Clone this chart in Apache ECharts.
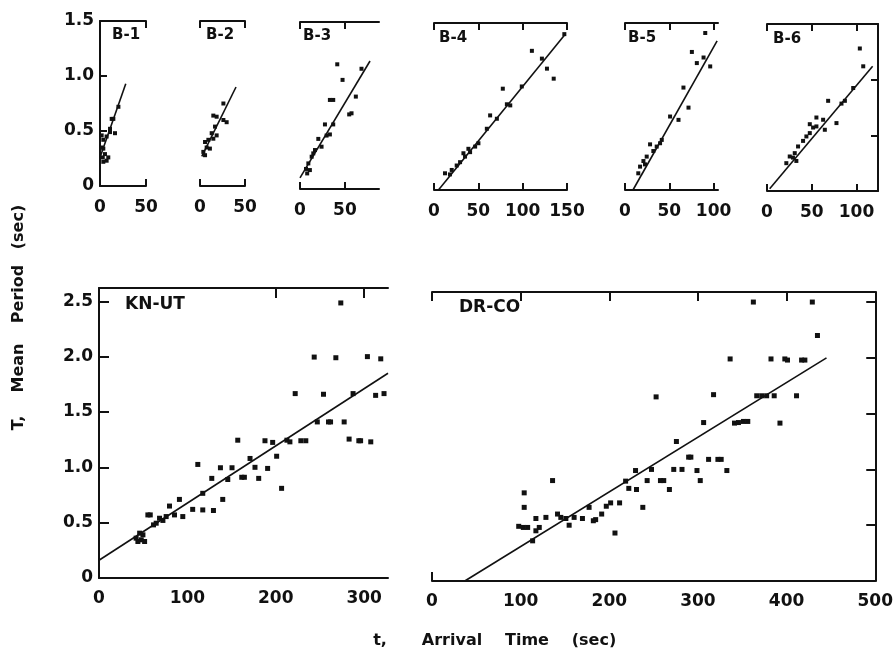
<!DOCTYPE html>
<html><head><meta charset="utf-8">
<script src="https://cdn.jsdelivr.net/npm/echarts@6/dist/echarts.min.js"></script>
<style>html,body{margin:0;padding:0;background:#fff}#c{width:896px;height:654px}</style>
</head><body><div id="c"></div>
<script>
// ---------- data ----------
const panelNames = ['B-1','B-2','B-3','B-4','B-5','B-6','KN-UT','DR-CO'];

const b1Time   = [20,12.7,14.5,16.3,10.9,7.2,3.6,1.8,3.6,5.4,9,3,7.2,3.6,1.8,10.9];
const b1Period = [0.72,0.61,0.61,0.48,0.49,0.45,0.42,0.46,0.34,0.29,0.26,0.26,0.23,0.22,0.35,0.52];

const b2Time   = [26,14.8,18.5,26,29.6,16.7,13,18.5,9.3,5.6,7.4,3.7,5.6,11,14.8];
const b2Period = [0.75,0.64,0.63,0.6,0.58,0.54,0.48,0.46,0.42,0.40,0.35,0.31,0.28,0.34,0.43];

const b3Time   = [41.5,68.5,47.4,33.3,37,62.2,54.8,57.4,27.8,37,33.3,20.4,24,16.7,13,9.3,6.7,11,8,14.8,29.6];
const b3Period = [1.12,1.08,0.98,0.80,0.80,0.83,0.67,0.68,0.58,0.58,0.49,0.45,0.38,0.35,0.29,0.23,0.18,0.17,0.14,0.32,0.48];

const b4Time   = [147,110.4,121.7,127.4,135,77.6,99,82.2,86,63.3,70.9,59.6,50.1,46.4,40.7,35,29.4,25.6,20,12.4,18,38.8,33.2];
const b4Period = [1.40,1.25,1.18,1.09,1.0,0.91,0.93,0.77,0.76,0.67,0.64,0.55,0.42,0.39,0.34,0.30,0.25,0.22,0.18,0.15,0.14,0.37,0.33];

const b5Time   = [90.6,75.5,88.7,81.1,96.2,66,71.7,50.9,60.4,41.5,28.3,35.8,32,24.5,20.8,17,15,22.6,39.6];
const b5Period = [1.41,1.24,1.19,1.14,1.11,0.92,0.74,0.66,0.63,0.45,0.41,0.39,0.35,0.30,0.26,0.21,0.15,0.23,0.42];

const b6Time   = [103.7,107.5,96.3,68.3,83.2,87,55.2,62.7,77.6,47.8,51.5,64.6,44,40.3,34.7,31,25.4,21.6,32.8,29,55.2,47.8];
const b6Period = [1.28,1.12,0.925,0.81,0.785,0.81,0.66,0.64,0.61,0.60,0.57,0.55,0.49,0.45,0.40,0.34,0.31,0.25,0.27,0.30,0.58,0.52];

const knTime   = [273.6,243.5,268,303.7,318.8,222,254,287.5,313,322.5,247,259.7,262,277.4,283,294,296,307.5,212.6,216,228.4,234,157,187.8,196.5,201,170.9,176.5,190.8,137.4,150.5,161.5,164.5,180.7,145.7,127.6,111.8,206.6,140,117.4,91,79.8,85.4,94.8,106,117.4,129.5,55.3,58,64.7,68.5,72.3,76,46,49.7,42,47.8,51.6,44,61.7];
const knPeriod = [2.485,1.996,1.99,2.0,1.98,1.666,1.66,1.666,1.65,1.666,1.41,1.41,1.41,1.41,1.255,1.24,1.24,1.23,1.245,1.23,1.24,1.24,1.245,1.24,1.225,1.10,1.08,1.0,0.99,0.996,0.996,0.91,0.91,0.90,0.89,0.90,1.026,0.81,0.71,0.765,0.71,0.65,0.57,0.555,0.62,0.615,0.61,0.57,0.57,0.495,0.54,0.52,0.555,0.405,0.39,0.36,0.345,0.33,0.33,0.48];

const drTime   = [362.5,429,434.8,336.3,382.4,398,401,416.9,420.6,252.8,317.6,366.3,371.9,377.5,386,411.2,306.4,341.2,345.7,351.3,356.2,392.5,275.7,289.5,292,312,322.5,326.2,332.6,298.9,302.6,282,272.7,247.6,229.6,242.7,257.7,261.4,267.8,218.4,222,230.7,237.8,211.6,201.5,196.6,191.4,184.6,182,177.2,169.7,160.3,154.7,151,145.3,141.6,136,128.5,117.2,104,104,97.8,103,107.9,121,117.2,113.5,206.4];
const drPeriod = [2.5,2.5,2.2,1.99,1.99,1.99,1.98,1.98,1.98,1.65,1.67,1.66,1.66,1.66,1.66,1.66,1.42,1.415,1.42,1.43,1.43,1.415,1.25,1.11,1.11,1.09,1.09,1.09,0.99,0.99,0.90,1.0,1.0,1.0,0.99,0.90,0.90,0.90,0.82,0.895,0.83,0.82,0.66,0.70,0.70,0.67,0.60,0.55,0.54,0.66,0.56,0.57,0.50,0.56,0.57,0.60,0.90,0.57,0.56,0.79,0.66,0.49,0.48,0.48,0.48,0.45,0.36,0.43];

// fitted lines: end points (time, period)
const b1FitTime = [0,28],   b1FitPeriod = [0.26,0.93];
const b2FitTime = [2,40],   b2FitPeriod = [0.27,0.90];
const b3FitTime = [0,78],   b3FitPeriod = [0.10,1.15];
const b4FitTime = [5,148],  b4FitPeriod = [0.0,1.40];
const b5FitTime = [9,104],  b5FitPeriod = [0.0,1.34];
const b6FitTime = [3,118],  b6FitPeriod = [0.02,1.12];
const knFitTime = [0,327],  knFitPeriod = [0.16,1.85];
const drFitTime = [37,445], drFitPeriod = [0.0,2.0];

// axis tick values
const smallTicks50  = [0,50];
const smallTicks100 = [0,50,100];
const smallTicks150 = [0,50,100,150];
const topPeriodLabels = [0,0.5,1.0,1.5];
const bottomPeriodLabels = [0,0.5,1.0,1.5,2.0,2.5];
const knTimeLabels = [0,100,200,300];
const drTimeLabels = [0,100,200,300,400,500];

// axis titles (words)
const yTitleWords = ['T,','Mean','Period','(sec)'];
const xTitleWords = ['t,','Arrival','Time','(sec)'];

// ---------- layout ----------
const INK = '#111';
const FONT = 'DejaVu Sans';
const zip = (a,b) => a.map((v,i)=>[v,b[i]]);

const panels = [
 {t:b1Time,p:b1Period,ft:b1FitTime,fp:b1FitPeriod,box:[100,21,46,165],xMax:50,yMax:1.5,xLab:smallTicks50,top:smallTicks50,bot:[50],left:true,leftT:[0.5,1.0],yLab:topPeriodLabels,right:false,rightT:[],tl:7},
 {t:b2Time,p:b2Period,ft:b2FitTime,fp:b2FitPeriod,box:[200,21,45,165],xMax:50,yMax:1.5,xLab:smallTicks50,top:smallTicks50,bot:smallTicks50,left:false,leftT:[],yLab:null,right:false,rightT:[],tl:7},
 {t:b3Time,p:b3Period,ft:b3FitTime,fp:b3FitPeriod,box:[300,22,79,167],xMax:88,yMax:1.5,xLab:smallTicks50,top:smallTicks50,bot:smallTicks50,left:false,leftT:[],yLab:null,right:false,rightT:[],tl:7},
 {t:b4Time,p:b4Period,ft:b4FitTime,fp:b4FitPeriod,box:[434,23,133,167],xMax:150,yMax:1.5,xLab:smallTicks150,top:smallTicks150,bot:smallTicks150,left:false,leftT:[],yLab:null,right:false,rightT:[],tl:7},
 {t:b5Time,p:b5Period,ft:b5FitTime,fp:b5FitPeriod,box:[625,23,93,167],xMax:105,yMax:1.5,xLab:smallTicks100,top:smallTicks100,bot:smallTicks100,left:false,leftT:[],yLab:null,right:false,rightT:[],tl:7},
 {t:b6Time,p:b6Period,ft:b6FitTime,fp:b6FitPeriod,box:[767,24,111,167],xMax:124,yMax:1.5,xLab:smallTicks100,top:smallTicks100,bot:smallTicks100,left:false,leftT:[],yLab:null,right:true,rightT:[0.5,1.0],tl:7},
 {t:knTime,p:knPeriod,ft:knFitTime,fp:knFitPeriod,box:[99,288,289,290],xMax:327,yMax:2.62,xLab:knTimeLabels,top:[200,300],bot:[],left:true,leftT:[0.5,1.0,1.5,2.0,2.5],yLab:bottomPeriodLabels,right:false,rightT:[],tl:10},
 {t:drTime,p:drPeriod,ft:drFitTime,fp:drFitPeriod,box:[432,292,445,289],xMax:500,yMax:2.59,xLab:drTimeLabels,top:[0,100,200,300,400],bot:[0],left:false,leftT:[],yLab:null,right:true,rightT:[0.5,1.0,1.5,2.0,2.5],tl:9}
];

const grid=[], xAxis=[], yAxis=[], series=[], graphic=[];
const lineStyle = {color:INK, width:2};
const labelStyle = {color:INK, fontFamily:FONT, fontWeight:'bold', fontSize:17};
const inList = (arr,v) => arr.some(a=>Math.abs(a-v)<1e-6);

panels.forEach((pn,i)=>{
  const [l,t,w,h] = pn.box;
  grid.push({left:l, top:t, width:w, height:h, containLabel:false});
  xAxis.push({type:'value', gridIndex:i, position:'bottom', min:0, max:pn.xMax,
    axisLine:{show:true, onZero:false, lineStyle},
    axisTick:{show:pn.bot.length>0, inside:true, length:pn.tl, customValues:pn.bot, lineStyle},
    axisLabel:{show:true, customValues:pn.xLab, margin:i<6?13:12, ...labelStyle,
      formatter:v=>inList(pn.xLab,v)?String(v):''},
    splitLine:{show:false}});
  xAxis.push({type:'value', gridIndex:i, position:'top', min:0, max:pn.xMax,
    axisLine:{show:true, onZero:false, lineStyle},
    axisTick:{show:pn.top.length>0, inside:true, length:pn.tl, customValues:pn.top, lineStyle},
    axisLabel:{show:false}, splitLine:{show:false}});
  yAxis.push({type:'value', gridIndex:i, position:'left', min:0, max:pn.yMax,
    axisLine:{show:pn.left, onZero:false, lineStyle},
    axisTick:{show:pn.leftT.length>0, inside:true, length:pn.tl, customValues:pn.leftT, lineStyle},
    axisLabel:{show:!!pn.yLab, customValues:pn.yLab||[], margin:6, ...labelStyle,
      formatter:v=>(pn.yLab && inList(pn.yLab,v)) ? (v===0?'0':v.toFixed(1)) : ''},
    splitLine:{show:false}});
  yAxis.push({type:'value', gridIndex:i, position:'right', min:0, max:pn.yMax,
    axisLine:{show:pn.right, onZero:false, lineStyle},
    axisTick:{show:pn.rightT.length>0, inside:true, length:pn.tl, customValues:pn.rightT, lineStyle},
    axisLabel:{show:false}, splitLine:{show:false}});
  series.push({type:'scatter', xAxisIndex:2*i, yAxisIndex:2*i, data:zip(pn.t,pn.p),
    symbol:'rect', symbolSize:i<6?4:5, itemStyle:{color:INK, opacity:1}, silent:true, animation:false});
  series.push({type:'line', xAxisIndex:2*i, yAxisIndex:2*i, data:zip(pn.ft,pn.fp),
    showSymbol:false, symbol:'none', lineStyle:{color:INK, width:1.6}, silent:true, animation:false});
});

// panel name labels
const nameSpots = [[112,37],[206,37],[303,38],[439,40],[628,40],[773,41],[125,305],[459,308]];
panelNames.forEach((n,i)=>{
  graphic.push({type:'text', left:nameSpots[i][0], top:nameSpots[i][1]-9,
    style:{text:n, fill:INK, font:`bold ${i<6?15:17}px "${FONT}"`}});
});
// axis titles, word by word
const yWordCenters = [423,368,294,227];
yTitleWords.forEach((w,k)=>{
  graphic.push({type:'text', x:19, y:yWordCenters[k], rotation:Math.PI/2,
    style:{text:w, fill:INK, font:`bold 16px "${FONT}"`, textAlign:'center', textVerticalAlign:'middle'}});
});
const xWordCenters = [380,452,527,594];
xTitleWords.forEach((w,k)=>{
  graphic.push({type:'text', x:xWordCenters[k], y:641,
    style:{text:w, fill:INK, font:`bold 16px "${FONT}"`, textAlign:'center', textVerticalAlign:'middle'}});
});

const chart = echarts.init(document.getElementById('c'), null, {renderer:'canvas'});
chart.setOption({animation:false, backgroundColor:'#fff', grid, xAxis, yAxis, series, graphic});
</script></body></html>
